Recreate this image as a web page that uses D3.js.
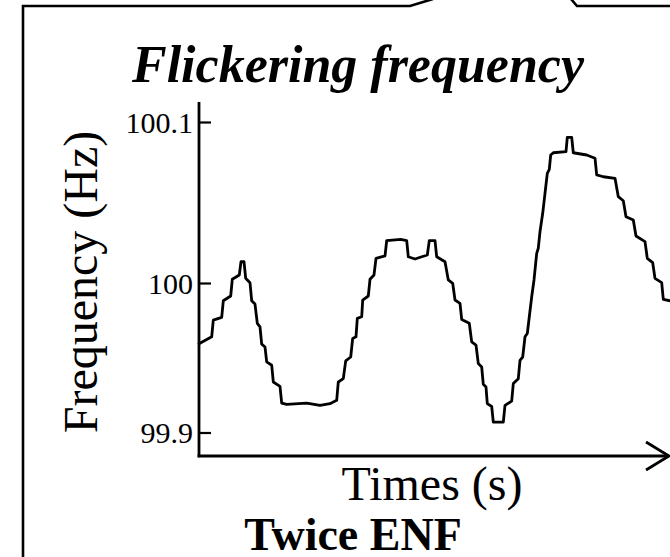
<!DOCTYPE html>
<html>
<head>
<meta charset="utf-8">
<script src="https://cdn.jsdelivr.net/npm/d3@7"></script>
<style>
  html, body { margin: 0; padding: 0; background: #fff; }
  svg { display: block; }
  text { font-family: "Liberation Serif", "Times New Roman", Times, serif; fill: #000; }
</style>
</head>
<body>
<svg id="chart" width="670" height="557"></svg>
<script>
// Time axis (arbitrary seconds) and measured flicker frequency (Hz)
const times = [0, 1.27, 1.43, 2.27, 2.43, 3.17, 3.33, 4.03, 4.2, 4.5, 4.67, 5.1, 5.27, 5.6, 5.83, 6.1,
  6.27, 6.6, 6.77, 7.27, 7.43, 8.1, 8.27, 8.77, 10.77, 12.1, 13.1, 13.77, 13.93, 14.43, 14.67, 15.17,
  15.37, 15.7, 15.83, 16.27, 16.37, 16.93, 17.1, 17.5, 17.7, 18.6, 18.77, 20.17, 20.77, 20.93, 21.6,
  22.83, 23.03, 23.6, 23.77, 24.6, 24.93, 25.37, 25.6, 26.1, 26.27, 27.03, 27.27, 27.7, 27.93, 28.27,
  28.43, 28.7, 28.83, 29.27, 29.43, 30.43, 30.6, 31.27, 31.43, 31.93, 32.1, 32.37, 32.6, 32.83, 33.03,
  33.27, 33.5, 33.77, 33.93, 34.1, 34.37, 34.6, 34.83, 35.03, 35.17, 35.43, 36.7, 36.83, 37.27, 37.43,
  38.77, 39.6, 39.77, 40.43, 41.6, 41.93, 42.43, 42.7, 43.43, 43.7, 44.6, 44.83, 45.37, 45.6, 46.27,
  46.43, 47.1];
const frequency = [99.9594, 99.9640, 99.9752, 99.9770, 99.9881, 99.9913, 100.0023, 100.0050, 100.0132,
  100.0132, 100.0029, 100.0002, 99.9881, 99.9859, 99.9730, 99.9707, 99.9591, 99.9572, 99.9472, 99.9450,
  99.9338, 99.9309, 99.9197, 99.9188, 99.9197, 99.9181, 99.9193, 99.9215, 99.9338, 99.9360, 99.9479,
  99.9505, 99.9629, 99.9640, 99.9763, 99.9774, 99.9886, 99.9913, 100.0023, 100.0050, 100.0153, 100.0168,
  100.0263, 100.0271, 100.0263, 100.0163, 100.0149, 100.0174, 100.0263, 100.0263, 100.0163, 100.0132,
  100.0019, 99.9998, 99.9886, 99.9864, 99.9756, 99.9730, 99.9606, 99.9584, 99.9461, 99.9438, 99.9322,
  99.9304, 99.9193, 99.9174, 99.9069, 99.9069, 99.9181, 99.9210, 99.9327, 99.9360, 99.9483, 99.9505,
  99.9640, 99.9662, 99.9774, 99.9908, 100.0019, 100.0184, 100.0216, 100.0319, 100.0433, 100.0557,
  100.0681, 100.0706, 100.0795, 100.0809, 100.0816, 100.0905, 100.0905, 100.0809, 100.0795, 100.0775,
  100.0671, 100.0660, 100.0650, 100.0536, 100.0511, 100.0412, 100.0391, 100.0292, 100.0257, 100.0153,
  100.0126, 100.0029, 100.0002, 99.9891, 99.9881];
const yTicks = [99.9, 100, 100.1];
const yTickLabels = ["99.9", "100", "100.1"];

const title = "Flickering frequency";
const yTitle = "Frequency (Hz)";
const xTitle = "Times (s)";
const caption = "Twice ENF";

const svg = d3.select("#chart");

// plot frame
const plotLeft = 199, plotRight = 670, plotTop = 102, plotBottom = 456;

const x = d3.scaleLinear().domain([0, 47.1]).range([plotLeft, plotRight]);
const y = d3.scaleLinear().domain([99.9, 100, 100.1]).range([432.5, 283, 122]);

// outer callout border
svg.append("path")
  .attr("d", "M23,560 L23,6 L410,6 L433,-1 M571,-1 L577,6 L672,6")
  .attr("fill", "none").attr("stroke", "#000").attr("stroke-width", 2.6);

// title
svg.append("text")
  .attr("x", 358).attr("y", 82)
  .attr("text-anchor", "middle")
  .style("font-size", "52px").style("font-weight", "bold").style("font-style", "italic")
  .text(title);

// y axis
const yAxis = d3.axisLeft(y)
  .tickValues(yTicks)
  .tickFormat((d, i) => yTickLabels[i])
  .tickSizeInner(-12).tickSizeOuter(0).tickPadding(6);
const gy = svg.append("g").attr("transform", `translate(${plotLeft},0)`).call(yAxis);
gy.select(".domain").remove();
gy.selectAll(".tick line").attr("stroke", "#000").attr("stroke-width", 2.2);
gy.selectAll(".tick text")
  .style("font-family", '"Liberation Serif", "Times New Roman", serif')
  .style("font-size", "30px").attr("dy", "0.34em");

svg.append("line")
  .attr("x1", plotLeft).attr("x2", plotLeft).attr("y1", plotTop).attr("y2", plotBottom + 1.3)
  .attr("stroke", "#000").attr("stroke-width", 2.8);

// x axis with open arrow head
svg.append("line")
  .attr("x1", plotLeft - 1.4).attr("x2", plotRight - 1).attr("y1", plotBottom).attr("y2", plotBottom)
  .attr("stroke", "#000").attr("stroke-width", 2.8);
svg.append("path")
  .attr("d", `M${plotRight - 24},${plotBottom - 14} L${plotRight - 1},${plotBottom} L${plotRight - 24},${plotBottom + 14}`)
  .attr("fill", "none").attr("stroke", "#000").attr("stroke-width", 2.8);

// frequency trace
const pts = times.map((t, i) => [t, frequency[i]]);
svg.append("path")
  .datum(pts)
  .attr("fill", "none").attr("stroke", "#000").attr("stroke-width", 2.8)
  .attr("stroke-linejoin", "round").attr("stroke-linecap", "round")
  .attr("d", d3.line().x(d => x(d[0])).y(d => y(d[1])));

// axis titles
svg.append("text")
  .attr("transform", "translate(97,282) rotate(-90)")
  .attr("text-anchor", "middle")
  .style("font-size", "48px")
  .text(yTitle);

svg.append("text")
  .attr("x", 432).attr("y", 500)
  .attr("text-anchor", "middle")
  .style("font-size", "48px")
  .text(xTitle);

svg.append("text")
  .attr("x", 353).attr("y", 550)
  .attr("text-anchor", "middle")
  .style("font-size", "46px").style("font-weight", "bold")
  .text(caption);
</script>
</body>
</html>
